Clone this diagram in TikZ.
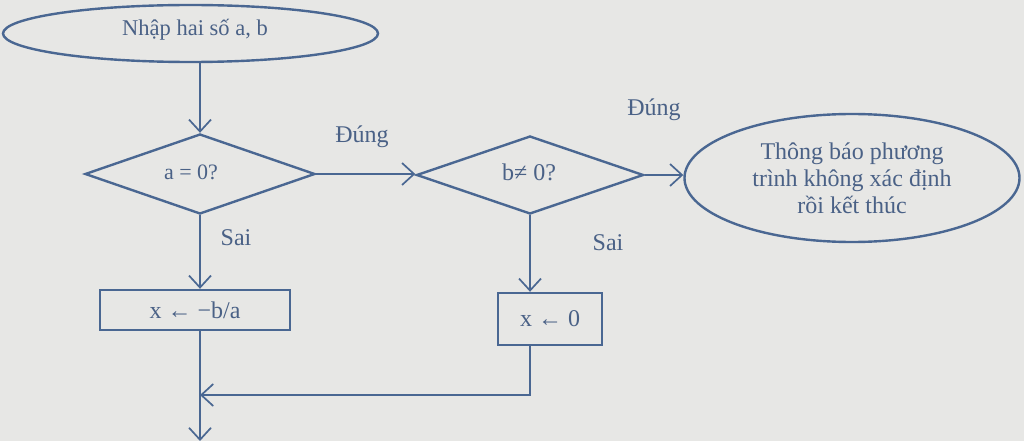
\documentclass[tikz,border=0pt]{standalone}
\usepackage{fontspec}
\setmainfont{Liberation Serif}
\usetikzlibrary{shapes.geometric,arrows.meta}
\definecolor{bgc}{HTML}{E7E7E5}
\definecolor{linec}{HTML}{4A6792}
\definecolor{textc}{HTML}{4A6186}
\tikzset{
  shapeline/.style={draw=linec, line width=2.4pt, text=textc, inner sep=0pt},
  oval/.style={shapeline, ellipse},
  decision/.style={shapeline, diamond},
  procbox/.style={shapeline, rectangle},
  arr/.style={draw=linec, line width=1.7pt, -{Straight Barb[length=12pt,width=22pt,line width=1.7pt]}},
  lbl/.style={text=textc, inner sep=0pt},
  big/.style={font=\fontsize{24}{27}\selectfont},
}
\begin{document}
\begin{tikzpicture}[x=1pt,y=-1pt,font=\fontsize{22.5}{27}\selectfont]
\fill[bgc] (0,0) rectangle (1024,441);
\useasboundingbox (0,0) rectangle (1024,441);

\node[oval, minimum width=375pt, minimum height=57pt] (e1) at (190.5,33.5) {};
\node[lbl] (t1) at (195,30) {Nhập hai số a, b};

\node[decision, minimum width=230pt, minimum height=80pt] (d1) at (200,174) {};
\node[lbl, font=\fontsize{22}{27}\selectfont] (t2) at (191,172) {a = 0?};

\node[decision, minimum width=227pt, minimum height=78pt] (d2) at (530,175) {};
\node[lbl, big] (t3) at (529,172) {b≠ 0?};

\node[oval, big, minimum width=335pt, minimum height=128pt, align=center] (e2) at (852,178)
  {Thông báo phương\\trình không xác định\\rồi kết thúc};

\node[procbox, big, minimum width=190pt, minimum height=40pt] (b1) at (195,310) {x ← −b/a};
\node[procbox, big, minimum width=104pt, minimum height=52pt] (b2) at (550,319) {x ← 0};

\node[lbl, big] (l1) at (362,137) {Đúng};
\node[lbl, big] (l2) at (654,110) {Đúng};
\node[lbl, big] (l3) at (236,238) {Sai};
\node[lbl, big] (l4) at (608,243) {Sai};

\coordinate (m) at (200,395);
\coordinate (endc) at (200,441);

\draw[arr] (d1.north |- e1.south) -- (d1.north);
\draw[arr] (d1.east) -- (d2.west |- d1.east);
\draw[arr] (d2.east) -- (d2.east -| e2.west);
\draw[arr] (d1.south) -- (d1.south |- b1.north);
\draw[arr] (d2.south) -- (d2.south |- b2.north);
\draw[arr] (b2.south -| d2.south) |- (m);
\draw[arr] (d1.south |- b1.south) -- (endc);
\end{tikzpicture}
\end{document}
